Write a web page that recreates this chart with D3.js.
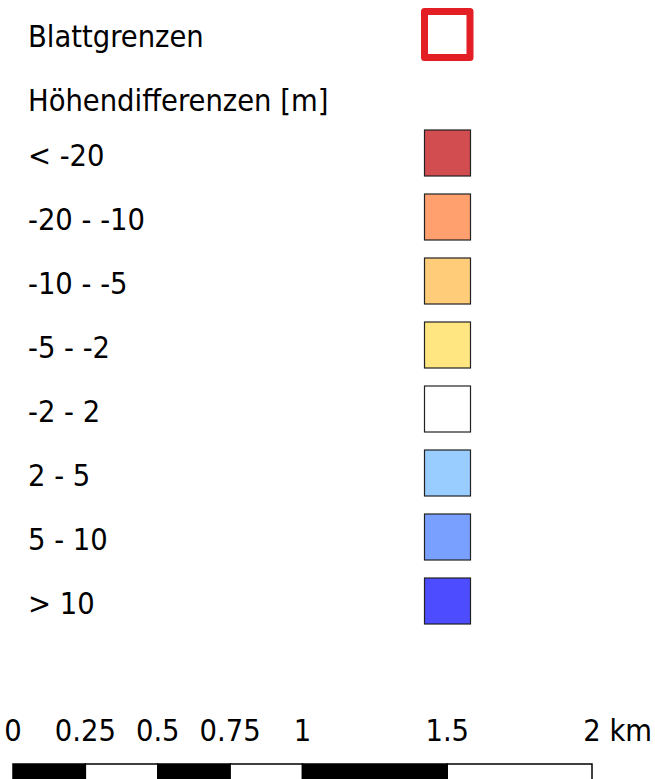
<!DOCTYPE html>
<html>
<head>
<meta charset="utf-8">
<script src="https://cdn.jsdelivr.net/npm/d3@7"></script>
<style>
  html, body { margin: 0; padding: 0; background: #fff; }
  svg { display: block; }
  text { font-family: "DejaVu Sans Condensed", "DejaVu Sans", sans-serif; font-size: 30.5px; fill: #000; }
</style>
</head>
<body>
<div id="legend"></div>
<script>
const boundaryLabel = 'Blattgrenzen';
const groupTitle    = 'Höhendifferenzen [m]';

const classLabels = ['< -20', '-20 - -10', '-10 - -5', '-5 - -2', '-2 - 2', '2 - 5', '5 - 10', '> 10'];
const classColors = ['#d14d50', '#ffa06e', '#ffcc7a', '#ffe680', '#ffffff', '#99ccff', '#7aa0ff', '#4d4dff'];

const scaleTicks  = [0, 0.25, 0.5, 0.75, 1, 1.5, 2];
const scaleUnit   = 'km';

const W = 655, H = 779;

const svg = d3.select('#legend')
  .append('svg')
  .attr('width', W)
  .attr('height', H);

// row positions for the classes
const rowY = d3.scalePoint()
  .domain(classLabels)
  .range([153, 153 + 64 * (classLabels.length - 1)]);

const textX = 28;
const swatchX = 424.5, swatchW = 46, swatchH = 46;

// sheet boundary entry
svg.append('text')
  .attr('x', textX)
  .attr('y', 47)
  .text(boundaryLabel);

svg.append('rect')
  .attr('x', 424.5)
  .attr('y', 11.5)
  .attr('width', 45.5)
  .attr('height', 46)
  .attr('fill', 'none')
  .attr('stroke', '#e31e24')
  .attr('stroke-width', 7)
  .attr('stroke-linejoin', 'round');

svg.append('text')
  .attr('x', textX)
  .attr('y', 111)
  .text(groupTitle);

const rows = svg.selectAll('.row')
  .data(classLabels)
  .enter().append('g')
  .attr('class', 'row');

rows.append('rect')
  .attr('x', swatchX)
  .attr('y', d => rowY(d) - swatchH / 2)
  .attr('width', swatchW)
  .attr('height', swatchH)
  .attr('fill', (d, i) => classColors[i])
  .attr('stroke', '#222')
  .attr('stroke-width', 1.2);

rows.append('text')
  .attr('x', textX)
  .attr('y', d => rowY(d) + 13)
  .text(d => d);

// scale bar
const x = d3.scaleLinear()
  .domain([0, 2])
  .range([13, 592]);

const barTop = 764;

const segs = d3.pairs(scaleTicks);
svg.selectAll('.seg')
  .data(segs)
  .enter().append('rect')
  .attr('x', d => x(d[0]))
  .attr('y', barTop)
  .attr('width', d => x(d[1]) - x(d[0]))
  .attr('height', 30)
  .attr('fill', (d, i) => i % 2 === 0 ? '#000' : '#fff')
  .attr('stroke', '#000')
  .attr('stroke-width', 1.5);

const labels = svg.selectAll('.tick-label')
  .data(scaleTicks)
  .enter().append('text')
  .attr('class', 'tick-label')
  .attr('x', d => x(d))
  .attr('y', 741)
  .attr('text-anchor', 'middle')
  .text(d => d);

// unit goes after the last number, number stays centred on its tick
const last = labels.filter((d, i) => i === scaleTicks.length - 1);
const lastW = last.node().getComputedTextLength();
svg.append('text')
  .attr('x', x(scaleTicks[scaleTicks.length - 1]) + lastW / 2)
  .attr('y', 741)
  .text('\u00a0' + scaleUnit);
</script>
</body>
</html>
